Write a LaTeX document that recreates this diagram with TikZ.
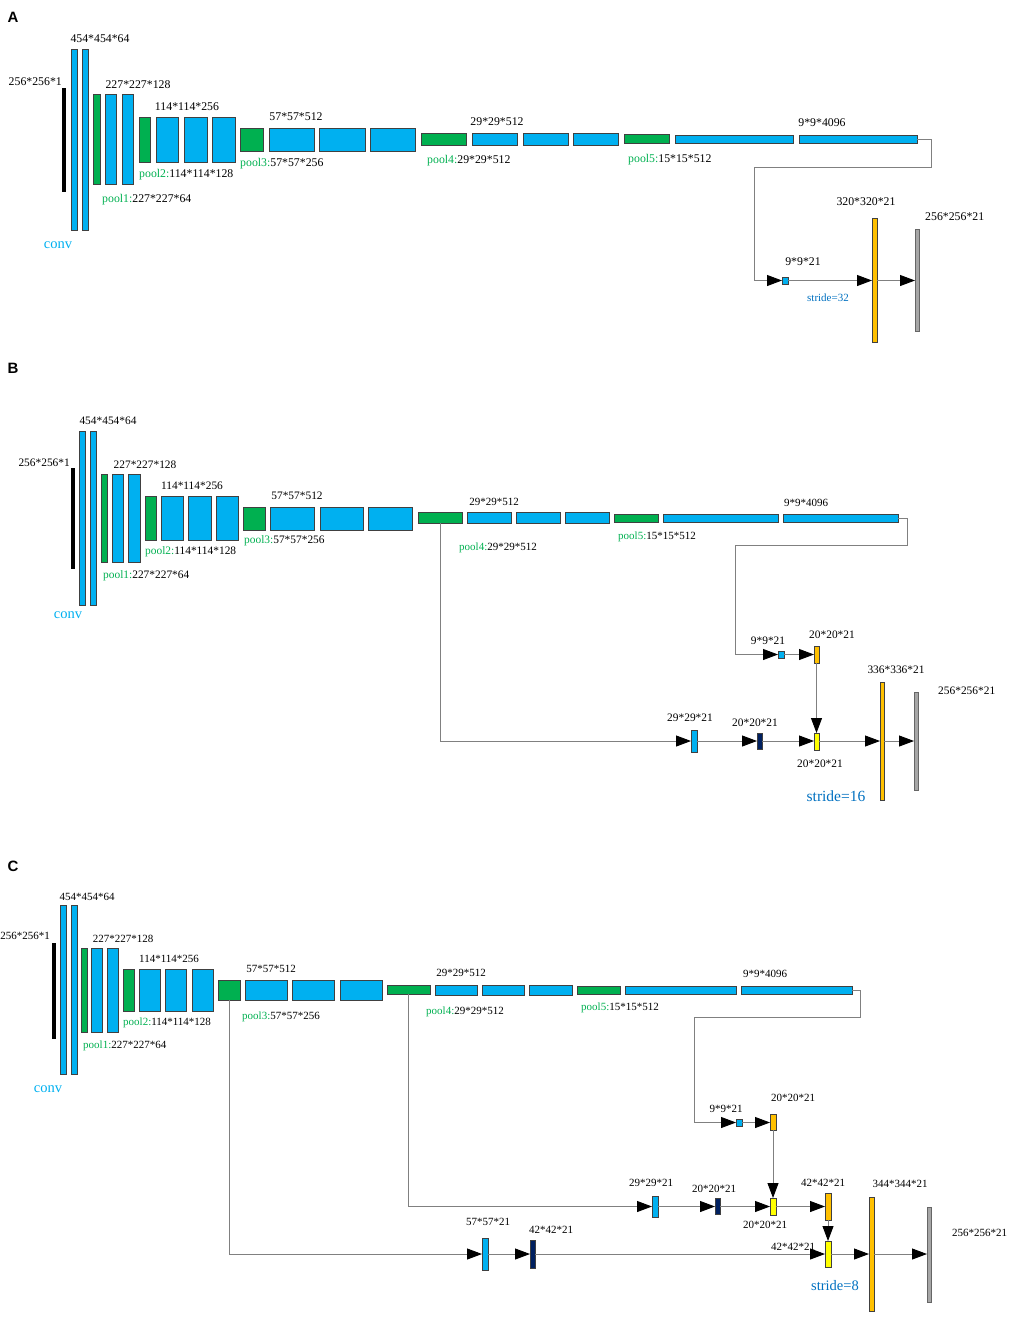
\documentclass[tikz,border=0pt]{standalone}
\usepackage{fontspec}
\setmainfont{Liberation Serif}
\newfontfamily\hvfont{Liberation Sans}
\usetikzlibrary{arrows.meta}
\definecolor{cblue}{HTML}{00B0F0}
\definecolor{cgreen}{HTML}{00B050}
\definecolor{corange}{HTML}{FFC000}
\definecolor{cyellow}{HTML}{FFFF00}
\definecolor{cnavy}{HTML}{002060}
\definecolor{cgray}{HTML}{A6A6A6}
\definecolor{boxline}{HTML}{404040}
\definecolor{linegray}{HTML}{808080}
\definecolor{sblue}{HTML}{0070C0}
\newcommand\mybox[6]{\node[#2,minimum width={(#5)-(#3)},minimum height={(#6)-(#4)}] (#1) at ({((#3)+(#5))/2},{((#4)+(#6))/2}) {};}
\tikzset{
  box/.style={draw=boxline,line width=0.6pt,inner sep=0pt,outer sep=0pt,rectangle},
  sBlue/.style={box,fill=cblue},
  sGreen/.style={box,fill=cgreen},
  sOrange/.style={box,fill=corange},
  sYellow/.style={box,fill=cyellow},
  sNavy/.style={box,fill=cnavy},
  sGray/.style={box,fill=cgray,draw=linegray!80!black},
  sBlack/.style={box,fill=black,draw=black},
  link/.style={draw=linegray,line width=0.9pt},
  arr/.style={link,-{Triangle[length=15pt,width=11pt,color=black,fill=black]}},
  labA/.style={font=\fontsize{11.8}{14}\selectfont,inner sep=0pt,text height=8pt,text depth=0pt},
  labB/.style={font=\fontsize{11.4}{13}\selectfont,inner sep=0pt,text height=7.7pt,text depth=0pt},
  labC/.style={font=\fontsize{11}{13}\selectfont,inner sep=0pt,text height=7.5pt,text depth=0pt},
  panel/.style={font=\hvfont\bfseries\fontsize{15}{17}\selectfont,inner sep=0pt},
  convlab/.style={font=\fontsize{14.5}{16}\selectfont,inner sep=0pt,text=cblue},
}
\newcommand\pl[2]{{\color{cgreen}pool#1:}#2}
\begin{document}
\begin{tikzpicture}[x=1pt,y=-1pt]
\useasboundingbox (0,0) rectangle (1011,1319);
% ================= Panel A =================
\node[panel] (Alet) at (13,17) {A};
\mybox{Ain}{sBlack}{62}{88}{65.5}{191}
\mybox{Ac1}{sBlue}{71}{49}{77}{230}
\mybox{Ac2}{sBlue}{82}{49}{88}{230}
\mybox{Ap1}{sGreen}{93}{94}{100}{184}
\mybox{Ab1}{sBlue}{105}{94}{116}{184}
\mybox{Ab2}{sBlue}{122}{94}{133}{184}
\mybox{Ap2}{sGreen}{139}{117}{150}{162}
\mybox{Ab3}{sBlue}{156}{117}{178}{162}
\mybox{Ab4}{sBlue}{184}{117}{207}{162}
\mybox{Ab5}{sBlue}{212}{117}{235}{162}
\mybox{Ap3}{sGreen}{240}{128}{263}{151}
\mybox{Ab6}{sBlue}{269}{128}{314}{151}
\mybox{Ab7}{sBlue}{319}{128}{365}{151}
\mybox{Ab8}{sBlue}{370}{128}{415}{151}
\mybox{Ap4}{sGreen}{421}{133}{466}{145}
\mybox{Ab9}{sBlue}{472}{133}{517}{145}
\mybox{Ab10}{sBlue}{523}{133}{568}{145}
\mybox{Ab11}{sBlue}{573}{133}{618}{145}
\mybox{Ap5}{sGreen}{624}{134}{669}{143}
\mybox{Af1}{sBlue}{675}{135}{793}{143}
\mybox{Af2}{sBlue}{799}{135}{917}{143}
\mybox{Asq}{sBlue}{782}{277}{788}{284}
\mybox{Aor}{sOrange}{872}{218}{877}{342}
\mybox{Agr}{sGray}{915}{229}{919}{331}
\coordinate (Ak1) at (931,167);
\coordinate (Ak2) at (754,167);
\draw[arr] (Af2.east) -| (Ak1) -- (Ak2) |- (Asq.west);
\draw[arr] (Asq.east) -- (Asq.east -| Aor.west);
\draw[arr] (Asq.east -| Aor.east) -- (Asq.east -| Agr.west);
\node[labA] (At1) at (100,39) {454*454*64};
\node[labA,anchor=east] (At2) at (62,82) {256*256*1};
\node[labA] (At3) at (138,85) {227*227*128};
\node[labA,anchor=west] (At4) at (102,198) {\pl{1}{227*227*64}};
\node[labA] (At5) at (187,107) {114*114*256};
\node[labA,anchor=west] (At6) at (139,173) {\pl{2}{114*114*128}};
\node[labA] (At7) at (296,117) {57*57*512};
\node[labA,anchor=west] (At8) at (240,162) {\pl{3}{57*57*256}};
\node[labA] (At9) at (497,122) {29*29*512};
\node[labA,anchor=west] (At10) at (427,160) {\pl{4}{29*29*512}};
\node[labA,anchor=west] (At11) at (628,158) {\pl{5}{15*15*512}};
\node[labA] (At12) at (822,123) {9*9*4096};
\node[labA] (At13) at (803,261) {9*9*21};
\node[labA] (At14) at (866,201) {320*320*21};
\node[labA,anchor=west] (At15) at (925,216) {256*256*21};
\node[labC,text=sblue] (At16) at (828,298) {stride=32};
\node[convlab] (At17) at (58,245) {conv};
% ================= Panel B =================
\node[panel] (Blet) at (13,368) {B};
\mybox{Bin}{sBlack}{71}{468}{74.5}{568}
\mybox{Bc1}{sBlue}{79}{431}{85}{605}
\mybox{Bc2}{sBlue}{90}{431}{96}{605}
\mybox{Bp1}{sGreen}{101}{474}{107}{562}
\mybox{Bb1}{sBlue}{112}{474}{123}{562}
\mybox{Bb2}{sBlue}{128}{474}{140}{562}
\mybox{Bp2}{sGreen}{145}{496}{156}{540}
\mybox{Bb3}{sBlue}{161}{496}{183}{540}
\mybox{Bb4}{sBlue}{188}{496}{211}{540}
\mybox{Bb5}{sBlue}{216}{496}{238}{540}
\mybox{Bp3}{sGreen}{243}{507}{265}{530}
\mybox{Bb6}{sBlue}{270}{507}{314}{530}
\mybox{Bb7}{sBlue}{320}{507}{363}{530}
\mybox{Bb8}{sBlue}{368}{507}{412}{530}
\mybox{Bp4}{sGreen}{418}{512}{462}{523}
\mybox{Bb9}{sBlue}{467}{512}{511}{523}
\mybox{Bb10}{sBlue}{516}{512}{560}{523}
\mybox{Bb11}{sBlue}{565}{512}{609}{523}
\mybox{Bp5}{sGreen}{614}{514}{658}{522}
\mybox{Bf1}{sBlue}{663}{514}{778}{522}
\mybox{Bf2}{sBlue}{783}{514}{898}{522}
\mybox{Bsq}{sBlue}{778}{651}{784}{658}
\mybox{Bo}{sOrange}{814}{646}{819}{663}
\mybox{By}{sYellow}{814}{733}{819}{750}
\mybox{Bs29}{sBlue}{691}{730}{697}{752}
\mybox{Bnv}{sNavy}{757}{733}{762}{749}
\mybox{Bbig}{sOrange}{880}{682}{884}{800}
\mybox{Bgr}{sGray}{914}{692}{918}{790}
\coordinate (Bk1) at (907,545);
\coordinate (Bk2) at (735,545);
\draw[arr] (Bf2.east) -| (Bk1) -- (Bk2) |- (Bsq.west);
\draw[arr] (Bsq.east) -- (Bsq.east -| Bo.west);
\draw[arr] (Bo.south) -- (Bo.south |- By.north);
\draw[arr] (Bp4.south) |- (Bs29.west);
\draw[arr] (Bs29.east) -- (Bs29.east -| Bnv.west);
\draw[arr] (Bs29.east -| Bnv.east) -- (Bs29.east -| By.west);
\draw[arr] (Bs29.east -| By.east) -- (Bs29.east -| Bbig.west);
\draw[arr] (Bs29.east -| Bbig.east) -- (Bs29.east -| Bgr.west);
\node[labB] (Bt1) at (108,421) {454*454*64};
\node[labB,anchor=east] (Bt2) at (70,463) {256*256*1};
\node[labB] (Bt3) at (145,465) {227*227*128};
\node[labB,anchor=west] (Bt4) at (103,575) {\pl{1}{227*227*64}};
\node[labB] (Bt5) at (192,486) {114*114*256};
\node[labB,anchor=west] (Bt6) at (145,551) {\pl{2}{114*114*128}};
\node[labB] (Bt7) at (297,496) {57*57*512};
\node[labB,anchor=west] (Bt8) at (244,540) {\pl{3}{57*57*256}};
\node[labC] (Bt9) at (494,502) {29*29*512};
\node[labC,anchor=west] (Bt10) at (459,547) {\pl{4}{29*29*512}};
\node[labC,anchor=west] (Bt11) at (618,536) {\pl{5}{15*15*512}};
\node[labC] (Bt12) at (806,503) {9*9*4096};
\node[labB] (Bt13) at (768,641) {9*9*21};
\node[labB] (Bt14) at (832,635) {20*20*21};
\node[labB] (Bt15) at (690,718) {29*29*21};
\node[labB] (Bt16) at (755,723) {20*20*21};
\node[labB] (Bt17) at (820,764) {20*20*21};
\node[labB] (Bt18) at (896,670) {336*336*21};
\node[labB,anchor=west] (Bt19) at (938,691) {256*256*21};
\node[font=\fontsize{15.5}{17}\selectfont,inner sep=0pt,text=sblue] (Bt20) at (836,796) {stride=16};
\node[convlab] (Bt21) at (68,615) {conv};
% ================= Panel C =================
\node[panel] (Clet) at (13,866) {C};
\mybox{Cin}{sBlack}{52}{943}{55.5}{1038}
\mybox{Cc1}{sBlue}{60}{905}{66}{1074}
\mybox{Cc2}{sBlue}{71}{905}{77}{1074}
\mybox{Cp1}{sGreen}{81}{948}{87}{1032}
\mybox{Cb1}{sBlue}{91}{948}{102}{1032}
\mybox{Cb2}{sBlue}{107}{948}{118}{1032}
\mybox{Cp2}{sGreen}{123}{969}{134}{1011}
\mybox{Cb3}{sBlue}{139}{969}{160}{1011}
\mybox{Cb4}{sBlue}{165}{969}{186}{1011}
\mybox{Cb5}{sBlue}{192}{969}{213}{1011}
\mybox{Cp3}{sGreen}{218}{980}{240}{1000}
\mybox{Cb6}{sBlue}{245}{980}{287}{1000}
\mybox{Cb7}{sBlue}{292}{980}{334}{1000}
\mybox{Cb8}{sBlue}{340}{980}{382}{1000}
\mybox{Cp4}{sGreen}{387}{985}{430}{994}
\mybox{Cb9}{sBlue}{435}{985}{477}{995}
\mybox{Cb10}{sBlue}{482}{985}{524}{995}
\mybox{Cb11}{sBlue}{529}{985}{572}{995}
\mybox{Cp5}{sGreen}{577}{986}{620}{994}
\mybox{Cf1}{sBlue}{625}{986}{736}{994}
\mybox{Cf2}{sBlue}{741}{986}{852}{994}
\mybox{Csq}{sBlue}{736}{1119}{742}{1126}
\mybox{Co1}{sOrange}{770}{1114}{776}{1130}
\mybox{Cy1}{sYellow}{770}{1198}{776}{1215}
\mybox{Cs29}{sBlue}{652}{1196}{658}{1217}
\mybox{Cnv1}{sNavy}{715}{1198}{720}{1214}
\mybox{Co2}{sOrange}{825}{1193}{831}{1220}
\mybox{Cy2}{sYellow}{825}{1241}{831}{1267}
\mybox{Cs57}{sBlue}{482}{1238}{488}{1270}
\mybox{Cnv2}{sNavy}{530}{1240}{535}{1268}
\mybox{Cbig}{sOrange}{869}{1197}{874}{1311}
\mybox{Cgr}{sGray}{927}{1207}{931}{1302}
\coordinate (Ck1) at (860,1017);
\coordinate (Ck2) at (694,1017);
\draw[arr] (Cf2.east) -| (Ck1) -- (Ck2) |- (Csq.west);
\draw[arr] (Csq.east) -- (Csq.east -| Co1.west);
\draw[arr] (Co1.south) -- (Co1.south |- Cy1.north);
\draw[arr] (Cp4.south) |- (Cs29.west);
\draw[arr] (Cs29.east) -- (Cs29.east -| Cnv1.west);
\draw[arr] (Cs29.east -| Cnv1.east) -- (Cs29.east -| Cy1.west);
\draw[arr] (Cs29.east -| Cy1.east) -- (Cs29.east -| Co2.west);
\draw[arr] (Co2.south) -- (Co2.south |- Cy2.north);
\draw[arr] (Cp3.south) |- (Cs57.west);
\draw[arr] (Cs57.east) -- (Cs57.east -| Cnv2.west);
\draw[arr] (Cs57.east -| Cnv2.east) -- (Cs57.east -| Cy2.west);
\draw[arr] (Cs57.east -| Cy2.east) -- (Cs57.east -| Cbig.west);
\draw[arr] (Cs57.east -| Cbig.east) -- (Cs57.east -| Cgr.west);
\node[labC] (Ct1) at (87,897) {454*454*64};
\node[labC,anchor=east] (Ct2) at (50,936) {256*256*1};
\node[labC] (Ct3) at (123,939) {227*227*128};
\node[labC,anchor=west] (Ct4) at (83,1045) {\pl{1}{227*227*64}};
\node[labC] (Ct5) at (169,959) {114*114*256};
\node[labC,anchor=west] (Ct6) at (123,1022) {\pl{2}{114*114*128}};
\node[labC] (Ct7) at (271,969) {57*57*512};
\node[labC,anchor=west] (Ct8) at (242,1016) {\pl{3}{57*57*256}};
\node[labC] (Ct9) at (461,973) {29*29*512};
\node[labC,anchor=west] (Ct10) at (426,1011) {\pl{4}{29*29*512}};
\node[labC,anchor=west] (Ct11) at (581,1007) {\pl{5}{15*15*512}};
\node[labC] (Ct12) at (765,974) {9*9*4096};
\node[labC] (Ct13) at (726,1109) {9*9*21};
\node[labC] (Ct14) at (793,1098) {20*20*21};
\node[labC] (Ct15) at (651,1183) {29*29*21};
\node[labC] (Ct16) at (714,1189) {20*20*21};
\node[labC] (Ct17) at (765,1225) {20*20*21};
\node[labC] (Ct18) at (823,1183) {42*42*21};
\node[labC] (Ct19) at (488,1222) {57*57*21};
\node[labC] (Ct20) at (551,1230) {42*42*21};
\node[labC] (Ct21) at (793,1247) {42*42*21};
\node[labC] (Ct22) at (900,1184) {344*344*21};
\node[labC,anchor=west] (Ct23) at (952,1233) {256*256*21};
\node[font=\fontsize{14.5}{16}\selectfont,inner sep=0pt,text=sblue] (Ct24) at (835,1286) {stride=8};
\node[convlab] (Ct25) at (48,1089) {conv};
\end{tikzpicture}
\end{document}
